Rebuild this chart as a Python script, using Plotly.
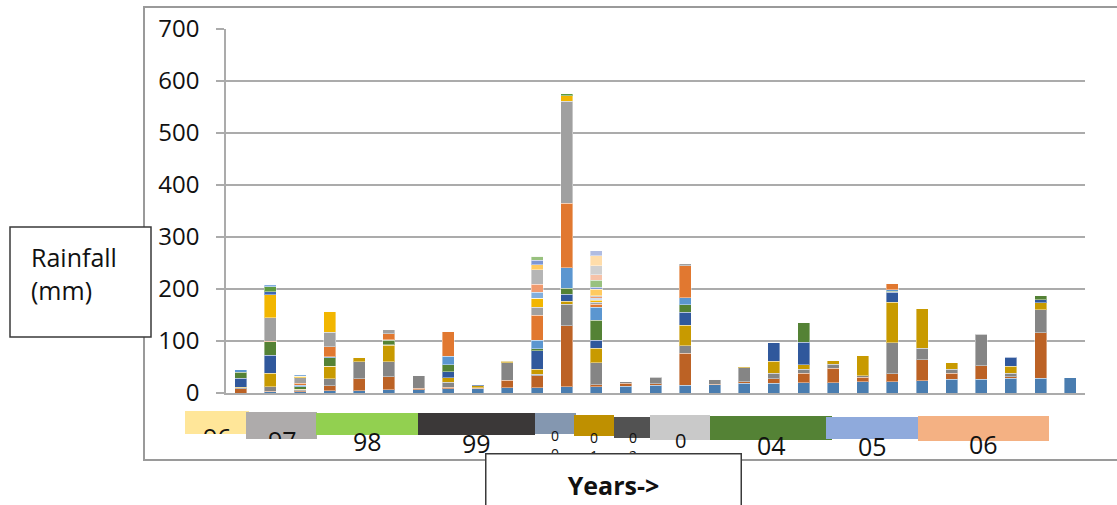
import plotly.graph_objects as go

# ---- data: monthly rainfall (mm) stacked per period ----
categories = [str(i) for i in range(1, 30)]

s01 = [0, 2, 2, 4, 4, 6, 6, 8, 8, 10, 10, 12, 12, 13, 15, 15, 16, 19, 19, 20, 20, 22, 22, 24, 26, 26, 28, 28, 29]
s02 = [8, 1, 2, 10, 23, 25, 3, 3, 1, 15, 23, 117, 4, 6, 3, 61, 1, 3, 8, 18, 28, 8, 15, 40, 12, 26, 3, 88, 0]
s03 = [2, 9, 2, 13, 33, 29, 25, 10, 1, 33, 3, 42, 42, 3, 12, 15, 9, 27, 11, 8, 7, 3, 60, 22, 8, 61, 7, 44, 0]
s04 = [1, 26, 1, 24, 9, 32, 0, 8, 4, 3, 10, 5, 28, 0, 2, 39, 0, 2, 23, 8, 8, 40, 78, 76, 12, 2, 13, 14, 0]
s05 = [17, 35, 0, 0, 0, 1, 0, 12, 2, 2, 35, 14, 15, 0, 0, 25, 0, 0, 37, 44, 0, 0, 19, 0, 0, 0, 18, 5, 0]
s06 = [12, 26, 5, 17, 0, 8, 0, 13, 0, 0, 4, 11, 39, 0, 0, 15, 0, 0, 0, 38, 0, 0, 2, 0, 0, 0, 2, 9, 0]
s07 = [5, 0, 3, 2, 0, 1, 0, 17, 0, 0, 16, 40, 25, 0, 0, 13, 0, 0, 0, 0, 0, 0, 3, 0, 0, 0, 0, 0, 0]
s08 = [0, 1, 4, 19, 0, 12, 0, 48, 0, 0, 49, 124, 6, 0, 0, 62, 0, 0, 0, 0, 0, 0, 12, 0, 0, 0, 0, 0, 0]
s09 = [0, 45, 10, 28, 0, 8, 0, 0, 0, 0, 15, 196, 4, 0, 0, 4, 0, 0, 0, 0, 0, 0, 0, 0, 0, 0, 0, 0, 0]
s10 = [0, 44, 3, 40, 0, 0, 0, 0, 0, 0, 17, 11, 3, 0, 0, 0, 0, 0, 0, 0, 0, 0, 0, 0, 0, 0, 0, 0, 0]
s11 = [0, 6, 0, 0, 0, 0, 0, 0, 0, 0, 0, 0, 2, 0, 0, 0, 0, 0, 0, 0, 0, 0, 0, 0, 0, 0, 0, 0, 0]
s12 = [0, 9, 0, 0, 0, 0, 0, 0, 0, 0, 0, 4, 0, 0, 0, 0, 0, 0, 0, 0, 0, 0, 0, 0, 0, 0, 0, 0, 0]
s13 = [0, 5, 3, 0, 0, 0, 0, 0, 0, 0, 12, 0, 2, 0, 0, 0, 0, 0, 0, 0, 0, 0, 0, 0, 0, 0, 0, 0, 0]
s14 = [0, 0, 0, 0, 0, 0, 0, 0, 0, 0, 15, 0, 3, 0, 0, 0, 0, 0, 0, 0, 0, 0, 0, 0, 0, 0, 0, 0, 0]
s15 = [0, 0, 0, 0, 0, 0, 0, 0, 0, 0, 28, 0, 2, 0, 0, 0, 0, 0, 0, 0, 0, 0, 0, 0, 0, 0, 0, 0, 0]
s16 = [0, 0, 0, 0, 0, 0, 0, 0, 0, 0, 10, 0, 13, 0, 0, 0, 0, 0, 0, 0, 0, 0, 0, 0, 0, 0, 0, 0, 0]
s17 = [0, 0, 0, 0, 0, 0, 0, 0, 0, 0, 8, 0, 3, 0, 0, 0, 0, 0, 0, 0, 0, 0, 0, 0, 0, 0, 0, 0, 0]
s18 = [0, 0, 0, 0, 0, 0, 0, 0, 0, 0, 8, 0, 14, 0, 0, 0, 0, 0, 0, 0, 0, 0, 0, 0, 0, 0, 0, 0, 0]
s19 = [0, 0, 0, 0, 0, 0, 0, 0, 0, 0, 0, 0, 10, 0, 0, 0, 0, 0, 0, 0, 0, 0, 0, 0, 0, 0, 0, 0, 0]
s20 = [0, 0, 0, 0, 0, 0, 0, 0, 0, 0, 0, 0, 18, 0, 0, 0, 0, 0, 0, 0, 0, 0, 0, 0, 0, 0, 0, 0, 0]
s21 = [0, 0, 0, 0, 0, 0, 0, 0, 0, 0, 0, 0, 19, 0, 0, 0, 0, 0, 0, 0, 0, 0, 0, 0, 0, 0, 0, 0, 0]
s22 = [0, 0, 0, 0, 0, 0, 0, 0, 0, 0, 0, 0, 10, 0, 0, 0, 0, 0, 0, 0, 0, 0, 0, 0, 0, 0, 0, 0, 0]

series = [s01, s02, s03, s04, s05, s06, s07, s08, s09, s10, s11,
          s12, s13, s14, s15, s16, s17, s18, s19, s20, s21, s22]

series_colors = ["#4A7DB0", "#BC6225", "#858585", "#C89A00", "#30589C", "#548235",
                 "#5B96D0", "#E17830", "#A0A0A0", "#F2B600", "#3F66B4", "#5E9A3E",
                 "#82AEDD", "#F09A6E", "#B5B5B5", "#FFCA60", "#7D97D5", "#98C17E",
                 "#F6C2A8", "#D0D0D0", "#FFDDAA", "#B0BCE2"]

y_ticks = [0, 100, 200, 300, 400, 500, 600, 700]

year_labels = ["96", "97", "98", "99", "0<br>0", "0<br>1", "0<br>2", "0", "04", "05", "06"]
year_colors = ["#FFE699", "#AEABAB", "#92D050", "#3B3838", "#8497B0", "#BF9000",
               "#525252", "#C9C9C9", "#548235", "#8FAADC", "#F4B183"]

# ---- page geometry (pixels) ----
W, H = 1117, 505
L, R, T, B = 226, 1085, 29, 393


def px(x):
    return (x - L) / (R - L)


def py(y):
    return (B - y) / (B - T)


FONT = "Open Sans"

fig = go.Figure()
for vals, col in zip(series, series_colors):
    fig.add_trace(go.Bar(
        x=categories, y=vals,
        marker=dict(color=col, line=dict(color="rgba(255,255,255,0.4)", width=1)),
        showlegend=False, hoverinfo="y",
    ))

shapes = []
annotations = []

# outer chart frame
shapes.append(dict(type="rect", xref="paper", yref="paper", layer="below",
                   x0=px(144), x1=px(1135), y0=py(460), y1=py(7),
                   line=dict(color="#9A9A9A", width=2), fillcolor="rgba(0,0,0,0)"))

# axis title box
shapes.append(dict(type="rect", xref="paper", yref="paper",
                   x0=px(10), x1=px(151), y0=py(337), y1=py(227),
                   line=dict(color="#3A3A3A", width=1.5), fillcolor="white"))
annotations.append(dict(xref="paper", yref="paper", x=px(29), y=py(273),
                        xanchor="left", yanchor="middle", align="left",
                        text="Rainfall<br>(mm)", showarrow=False,
                        font=dict(family=FONT, size=25, color="#111111")))

# year strip below the plot
strip_boxes = [(185, 249, 411, 434), (246, 317, 412, 439), (316, 418, 413, 435),
               (418, 535, 413, 435), (535, 576, 413, 434), (574, 614, 415, 436),
               (614, 650, 417, 438), (650, 710, 415, 440), (710, 832, 416, 440),
               (826, 918, 417, 439), (918, 1049, 416, 441)]
strip_text = [(217, 437, 25), (282, 440, 25), (367, 441, 25), (476, 443, 25),
              (555, 444, 14), (594, 446, 14), (633, 446, 14), (680, 440, 20),
              (771, 445, 25), (872, 446, 25), (983, 444, 25)]

for (x0, x1, y0, y1), col in zip(strip_boxes, year_colors):
    shapes.append(dict(type="rect", xref="paper", yref="paper",
                       x0=px(x0), x1=px(x1), y0=py(y1), y1=py(y0),
                       line=dict(width=0), fillcolor=col))
for lab, (x, y, s) in zip(year_labels, strip_text):
    annotations.append(dict(xref="paper", yref="paper", x=px(x), y=py(y),
                            xanchor="center", yanchor="middle", text=lab,
                            showarrow=False,
                            font=dict(family=FONT, size=s, color="#111111")))

# white masks trimming the first two labels under their boxes
for (x0, x1, y0) in [(198, 238, 434), (262, 304, 439)]:
    annotations.append(dict(xref="paper", yref="paper", x=px(x0), y=py(y0),
                            xanchor="left", yanchor="top", text=" ",
                            width=x1 - x0, height=18, bgcolor="white",
                            borderwidth=0, borderpad=0, showarrow=False))

# x-axis title box
annotations.append(dict(xref="paper", yref="paper", x=px(613), y=py(453),
                        xanchor="center", yanchor="top", valign="middle",
                        text="<b>Years-&gt;</b>", width=254, height=60,
                        bgcolor="white", bordercolor="#3A3A3A", borderwidth=1.5,
                        borderpad=0, showarrow=False,
                        font=dict(family=FONT, size=25, color="#111111")))

fig.update_layout(
    width=W, height=H,
    margin=dict(l=L, r=W - R, t=T, b=H - B, pad=0),
    paper_bgcolor="white", plot_bgcolor="white",
    barmode="stack", bargap=0.595,
    shapes=shapes, annotations=annotations,
    font=dict(family=FONT),
)
fig.update_yaxes(range=[0, 700], tickvals=y_ticks, ticktext=[str(v) for v in y_ticks],
                 showgrid=True, gridcolor="#ABABAB", gridwidth=1.5,
                 zeroline=False, showline=True, linecolor="#ABABAB", linewidth=1.5,
                 ticks="outside", ticklen=8, tickcolor="#ABABAB", tickwidth=1.5,
                 ticklabelstandoff=12,
                 tickfont=dict(family=FONT, size=24, color="#111111"))
fig.update_xaxes(showticklabels=False, showgrid=False, zeroline=False,
                 showline=True, linecolor="#ABABAB", linewidth=1.5, ticks="")

fig.write_html("out.html")
